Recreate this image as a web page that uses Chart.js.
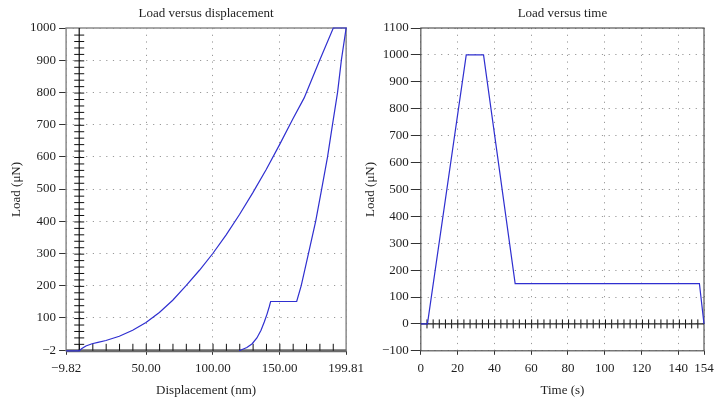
<!DOCTYPE html>
<html lang="en">
<head>
<meta charset="UTF-8">
<title>Load versus displacement / time</title>
<script src="https://cdn.jsdelivr.net/npm/chart.js"></script>
<style>
  body { margin: 0; background: #fff; }
  #wrap { position: relative; width: 720px; height: 404px; }
  canvas { position: absolute; top: 0; }
  #left { left: 0; }
  #right { left: 360px; }
</style>
</head>
<body>
<div id="wrap">
  <canvas id="left" width="370" height="404"></canvas>
  <canvas id="right" width="360" height="404"></canvas>
</div>
<script>
// left panel: load vs displacement
const loadDisp = [-9.82, 0, 2, 5, 9.6, 14, 20, 30, 40, 50, 60, 70, 80, 90, 100, 110, 120, 130, 140, 150, 160, 168.4, 180, 190.2, 199.81];
const loadForce = [-2, -2, 5, 13, 20, 24, 30, 43, 62, 86, 117, 155, 200, 248, 300, 358, 421, 489, 561, 638, 718, 783, 900, 1000, 1000];
const unloadDisp = [199.81, 196.3, 193.4, 189.6, 185.9, 181.5, 177.0, 171.6, 166.2, 162.8, 143.3, 142.2, 140.6, 138.6, 136.1, 133.0, 129.5, 125.5, 122.0, 119.7];
const unloadForce = [1000, 902, 800, 700, 600, 500, 400, 300, 200, 151, 151, 134, 112, 88, 62, 38, 20, 8, 2, -2];

const dispTickVals = [-9.82, 50, 100, 150, 199.81];
const dispTickLabels = ['\u22129.82', '50.00', '100.00', '150.00', '199.81'];
const forceTickVals = [-2, 100, 200, 300, 400, 500, 600, 700, 800, 900, 1000];
const forceTickLabels = ['\u22122', '100', '200', '300', '400', '500', '600', '700', '800', '900', '1000'];
const dispMinor = [0.18, 10.18, 20.18, 30.18, 40.18, 50.18, 60.18, 70.18, 80.18, 90.18, 100.18, 110.18, 120.18, 130.18, 140.18, 150.18, 160.18, 170.18, 180.18, 190.18];
const forceMinor = [18, 38, 58, 78, 98, 118, 138, 158, 178, 198, 218, 238, 258, 278, 298, 318, 338, 358, 378, 398, 418, 438, 458, 478, 498, 518, 538, 558, 578, 598, 618, 638, 658, 678, 698, 718, 738, 758, 778, 798, 818, 838, 858, 878, 898, 918, 938, 958, 978];

// right panel: load vs time
const timeVals = [0, 3.6, 24.7, 34.1, 51.3, 151.5, 154];
const timeForce = [0, 0, 1000, 1000, 150, 150, 0];
const timeTickVals = [0, 20, 40, 60, 80, 100, 120, 140, 154];
const timeMinor = [3.35, 6.70, 10.04, 13.39, 16.74, 20.09, 23.43, 26.78, 30.13, 33.48, 36.83, 40.17, 43.52, 46.87, 50.22, 53.57, 56.91, 60.26, 63.61, 66.96, 70.30, 73.65, 77.00, 80.35, 83.70, 87.04, 90.39, 93.74, 97.09, 100.43, 103.78, 107.13, 110.48, 113.83, 117.17, 120.52, 123.87, 127.22, 130.57, 133.91, 137.26, 140.61, 143.96, 147.30, 150.65];

const serif = "'Liberation Serif', 'DejaVu Serif', serif";
const blue = '#2f2fd0';
const textColor = '#1e1e1e';

function pts(xs, ys) {
  return xs.map((x, i) => ({ x: x, y: ys[i] }));
}

// border round the plot area
const frame = {
  id: 'frame',
  beforeDatasetsDraw(chart, args, opts) {
    const a = chart.chartArea;
    const ctx = chart.ctx;
    ctx.save();
    ctx.strokeStyle = opts.color;
    ctx.lineWidth = opts.width;
    ctx.strokeRect(a.left, a.top, a.right - a.left, a.bottom - a.top);
    if (opts.bottomWidth) {
      ctx.strokeStyle = opts.bottomColor;
      ctx.lineWidth = opts.bottomWidth;
      ctx.beginPath();
      ctx.moveTo(a.left, a.bottom);
      ctx.lineTo(a.right, a.bottom);
      ctx.stroke();
    }
    ctx.restore();
  }
};

const gridStyle = { color: '#999', lineWidth: 1, tickColor: '#333', tickWidth: 1 };
const gridBorder = { display: false, dash: [1.2, 5.5] };

function topTitle(text, min, max) {
  return {
    type: 'linear', position: 'top', min: min, max: max,
    ticks: { display: false },
    grid: { display: false, drawTicks: false },
    border: { display: false },
    title: { display: true, text: text, color: textColor, font: { family: serif, size: 13 }, padding: { top: 6, bottom: 6.4 } }
  };
}

new Chart(document.getElementById('left'), {
  type: 'scatter',
  data: {
    datasets: [
      { data: pts(loadDisp, loadForce).concat(pts(unloadDisp, unloadForce)), showLine: true, borderColor: blue, borderWidth: 1.2, pointRadius: 0, tension: 0, clip: false },
      { data: [{ x: 0, y: forceTickVals[0] }, { x: 0, y: forceTickVals[forceTickVals.length - 1] }], showLine: true, borderColor: '#111', borderWidth: 1.2, pointRadius: 0 },
      { data: forceMinor.map(v => ({ x: 0, y: v })), pointStyle: 'line', pointRadius: 5, pointBorderColor: '#111', pointBorderWidth: 1 },
      { data: dispMinor.map(v => ({ x: v, y: forceTickVals[0] })), pointStyle: 'line', pointRotation: 90, pointRadius: 7, pointBorderColor: '#111', pointBorderWidth: 1 }
    ]
  },
  options: {
    responsive: false,
    animation: false,
    events: [],
    layout: { padding: { left: 4.5, right: 22, top: 0, bottom: 2 } },
    plugins: {
      legend: { display: false },
      tooltip: { enabled: false },
      frame: { color: '#8a8a8a', width: 1.5, bottomColor: '#6a6a6a', bottomWidth: 3 }
    },
    scales: {
      x: {
        type: 'linear', min: dispTickVals[0], max: dispTickVals[dispTickVals.length - 1],
        afterBuildTicks: axis => { axis.ticks = dispTickVals.map(v => ({ value: v })); },
        ticks: { autoSkip: false, maxRotation: 0, padding: 6, color: textColor, font: { family: serif, size: 13 },
          callback: (v, i) => dispTickLabels[i] },
        grid: Object.assign({ tickLength: 4 }, gridStyle),
        border: gridBorder,
        title: { display: true, text: 'Displacement (nm)', color: textColor, font: { family: serif, size: 13 }, padding: { top: 0, bottom: 4 } }
      },
      x2: topTitle('Load versus displacement', dispTickVals[0], dispTickVals[dispTickVals.length - 1]),
      y: {
        type: 'linear', min: forceTickVals[0], max: forceTickVals[forceTickVals.length - 1],
        afterBuildTicks: axis => { axis.ticks = forceTickVals.map(v => ({ value: v })); },
        ticks: { autoSkip: false, padding: 3, color: textColor, font: { family: serif, size: 13 },
          callback: (v, i) => forceTickLabels[i] },
        grid: Object.assign({ tickLength: 7 }, gridStyle),
        border: gridBorder,
        title: { display: true, text: 'Load (\u03bcN)', color: textColor, font: { family: serif, size: 13 }, padding: { top: 4, bottom: 3 } }
      }
    }
  },
  plugins: [frame]
});

new Chart(document.getElementById('right'), {
  type: 'scatter',
  data: {
    datasets: [
      { data: pts(timeVals, timeForce), showLine: true, borderColor: blue, borderWidth: 1.2, pointRadius: 0, tension: 0, clip: false },
      { data: [{ x: timeTickVals[0], y: 0 }, { x: timeTickVals[timeTickVals.length - 1], y: 0 }], showLine: true, borderColor: '#222', borderWidth: 1.3, pointRadius: 0 },
      { data: timeMinor.map(v => ({ x: v, y: 0 })), pointStyle: 'line', pointRotation: 90, pointRadius: 4.5, pointBorderColor: '#111', pointBorderWidth: 1 }
    ]
  },
  options: {
    responsive: false,
    animation: false,
    events: [],
    layout: { padding: { left: 0.4, right: 16, top: 0, bottom: 2 } },
    plugins: {
      legend: { display: false },
      tooltip: { enabled: false },
      frame: { color: '#555', width: 1.2 }
    },
    scales: {
      x: {
        type: 'linear', min: timeTickVals[0], max: timeTickVals[timeTickVals.length - 1],
        afterBuildTicks: axis => { axis.ticks = timeTickVals.map(v => ({ value: v })); },
        ticks: { autoSkip: false, maxRotation: 0, padding: 6, color: textColor, font: { family: serif, size: 13 } },
        grid: Object.assign({ tickLength: 4 }, gridStyle),
        border: gridBorder,
        title: { display: true, text: 'Time (s)', color: textColor, font: { family: serif, size: 13 }, padding: { top: 0, bottom: 4 } }
      },
      x2: topTitle('Load versus time', timeTickVals[0], timeTickVals[timeTickVals.length - 1]),
      y: {
        type: 'linear', min: -100, max: 1100,
        ticks: { stepSize: 100, padding: 2, color: textColor, font: { family: serif, size: 13 },
          callback: v => v < 0 ? '\u2212' + Math.abs(v) : String(v) },
        grid: Object.assign({ tickLength: 10 }, gridStyle),
        border: gridBorder,
        title: { display: true, text: 'Load (\u03bcN)', color: textColor, font: { family: serif, size: 13 }, padding: { top: 2, bottom: 2 } }
      }
    }
  },
  plugins: [frame]
});
</script>
</body>
</html>
